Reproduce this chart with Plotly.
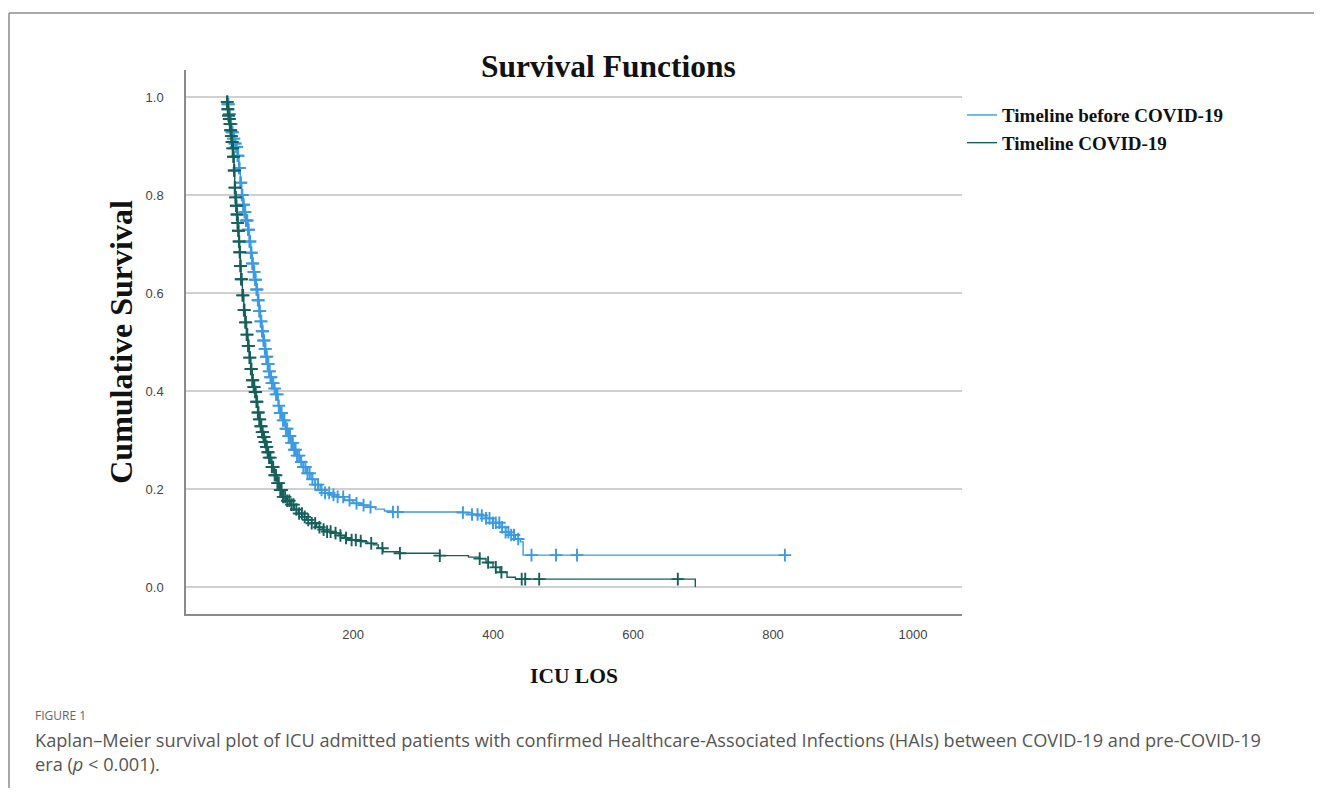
import numpy as np
import plotly.graph_objects as go

# ---------------- data ----------------
covid_t = [19, 20, 21, 22, 23, 24, 25, 26, 27, 28, 29, 30, 31, 32, 33, 34, 35, 36, 37, 38, 39, 40,
           42, 44, 46, 48, 50, 52, 54, 56, 58, 60, 62, 64, 66, 68, 70, 72, 74, 76, 78, 80,
           84, 88, 92, 96, 100, 105, 110, 116, 122, 128, 134, 141, 148, 156, 163, 171, 180,
           188, 196, 205, 213, 221, 229, 236, 243, 267, 324, 365, 381, 390, 400, 410, 420,
           432, 689]
covid_s = [1.000, 0.990, 0.975, 0.962, 0.955, 0.945, 0.932, 0.920, 0.908, 0.895, 0.878, 0.850,
           0.815, 0.795, 0.778, 0.760, 0.743, 0.727, 0.705, 0.683, 0.655, 0.628,
           0.595, 0.565, 0.540, 0.515, 0.492, 0.468, 0.445, 0.422, 0.408, 0.398, 0.378, 0.356,
           0.342, 0.328, 0.316, 0.306, 0.296, 0.286, 0.275, 0.264,
           0.245, 0.228, 0.212, 0.198, 0.184, 0.176, 0.168, 0.158, 0.150, 0.143, 0.137, 0.130,
           0.122, 0.117, 0.113, 0.110, 0.105, 0.100, 0.096, 0.094, 0.092, 0.089, 0.086, 0.079,
           0.072, 0.069, 0.064, 0.061, 0.058, 0.050, 0.040, 0.030, 0.020, 0.016, 0.000]
covid_censor = [20, 20.5, 21, 21.5, 22, 22.5, 23, 23.5, 24, 24.5, 25, 25.5, 26, 26.5, 27, 27.5,
                28, 28.5, 29, 29.5, 30, 30.5, 31, 31.5, 32, 32.5, 33, 33.5, 34, 34.5, 35, 35.5,
                36, 36.5, 37, 37.5, 38, 38.5, 39, 39.5, 40, 41, 42, 43, 44, 45, 46, 47, 48, 49,
                50, 51, 52, 53, 54, 55, 56, 57, 58, 59, 60, 61, 62, 63, 64, 65, 66, 67, 68, 69,
                70, 71, 72, 73, 74, 75, 76, 77, 78, 79, 80, 82, 84, 86, 88, 90, 92, 94, 96, 98,
                100, 103, 106, 109, 112, 115, 119, 123, 127, 131, 136, 141, 146, 152, 158, 163,
                168, 175, 182, 190, 198, 204, 211, 226, 242, 267, 324, 381, 393, 404, 412, 441,
                446, 466, 664]

pre_t = [19, 21, 23, 25, 27, 29, 31, 33, 35, 37, 39, 41, 43, 45, 47, 50, 52, 54, 56, 58, 60,
         62, 64, 66, 68, 70, 72, 74, 76, 78, 80, 82, 84, 87, 90, 93, 96, 100, 104, 108, 112,
         116, 120, 125, 129, 134, 140, 146, 153, 160, 168, 177, 188, 200, 210, 220, 232, 245,
         257, 357, 370, 381, 390, 400, 410, 418, 424, 432, 439, 443, 818]
pre_s = [1.000, 0.985, 0.965, 0.945, 0.928, 0.915, 0.905, 0.898, 0.880, 0.855, 0.825, 0.800,
         0.780, 0.765, 0.748, 0.729, 0.705, 0.682, 0.660, 0.643, 0.627, 0.607, 0.585, 0.563,
         0.542, 0.522, 0.503, 0.486, 0.470, 0.455, 0.440, 0.428, 0.416, 0.405, 0.393, 0.370,
         0.355, 0.340, 0.323, 0.308, 0.294, 0.280, 0.268, 0.255, 0.245, 0.232, 0.220, 0.209,
         0.198, 0.192, 0.188, 0.184, 0.177, 0.171, 0.167, 0.163, 0.159, 0.155, 0.153, 0.152,
         0.148, 0.146, 0.140, 0.131, 0.122, 0.112, 0.106, 0.098, 0.092, 0.065, 0.065]
pre_censor = [21, 22, 23, 24, 25, 26, 27, 28, 29, 30, 31, 32, 33, 34, 35, 36, 37, 38, 39, 40,
              41, 42, 43, 44, 45, 46, 47, 48, 49, 50, 51, 52, 53, 54, 55, 56, 57, 58, 59, 60,
              61, 62, 63, 64, 65, 66, 67, 68, 69, 70, 71, 72, 73, 74, 75, 76, 77, 78, 79, 80,
              81, 82, 83, 84, 86, 88, 90, 92, 94, 96, 98, 100, 102, 104, 106, 108, 110, 112,
              114, 116, 118, 120, 123, 126, 129, 132, 135, 138, 142, 146, 150, 155, 160, 166,
              172, 178, 186, 195, 205, 215, 225, 257, 264, 357, 370, 378, 384, 390, 395, 400,
              404, 409, 413, 418, 422, 426, 430, 436, 455, 490, 520, 817]

series_names = ["Timeline before COVID-19", "Timeline COVID-19"]
x_ticks = [200, 400, 600, 800, 1000]
y_ticks = [0.0, 0.2, 0.4, 0.6, 0.8, 1.0]

# ---------------- styling ----------------
BLUE = "#3b9ae0"
GREEN = "#14605a"
SERIF = "Liberation Serif, Times New Roman, serif"
SANS = "Liberation Sans, Arial, sans-serif"
CAP = "Open Sans, Noto Sans, sans-serif"


def step_value(times, surv, q):
    times = np.asarray(times, dtype=float)
    surv = np.asarray(surv, dtype=float)
    idx = np.searchsorted(times, q, side="right") - 1
    idx = np.clip(idx, 0, len(surv) - 1)
    return surv[idx]


fig = go.Figure()

for name, t, s, c, col in [
    (series_names[0], pre_t, pre_s, pre_censor, BLUE),
    (series_names[1], covid_t, covid_s, covid_censor, GREEN),
]:
    fig.add_trace(go.Scatter(
        x=t, y=s, mode="lines", line=dict(color=col, width=1.4, shape="hv"),
        name=f"<b>{name}</b>", showlegend=True, hoverinfo="skip"))
    fig.add_trace(go.Scatter(
        x=c, y=step_value(t, s, np.asarray(c, dtype=float)), mode="markers",
        marker=dict(symbol="cross-thin", size=9, line=dict(color=col, width=1.9)),
        showlegend=False, hoverinfo="skip"))

# page body has an 8px margin: plot area sits at x 186..962, y 70..614 in the window
fig.update_layout(
    width=1306, height=780,
    margin=dict(l=178, r=352, t=62, b=174),
    paper_bgcolor="white", plot_bgcolor="white",
    showlegend=True,
    legend=dict(x=1.0, y=0.952, xanchor="left", yanchor="top",
                font=dict(family=SERIF, size=19, color="#111"),
                bgcolor="rgba(0,0,0,0)", tracegroupgap=0, itemwidth=30),
)

fig.update_xaxes(
    range=[-38.6, 1070], tickvals=x_ticks, ticktext=[str(v) for v in x_ticks],
    showgrid=False, zeroline=False, showline=True, linecolor="#8a8a8a", linewidth=1.5,
    ticks="", tickfont=dict(family=SANS, size=13, color="#444"), ticklabelstandoff=8,
    title=dict(text="<b>ICU LOS</b>", font=dict(family=SERIF, size=21.5, color="#111"), standoff=27),
)
fig.update_yaxes(
    range=[-0.0551, 1.055], tickvals=y_ticks, ticktext=[f"{v:.1f}" for v in y_ticks],
    showgrid=True, gridcolor="#d0d0d0", gridwidth=1.5, zeroline=False,
    showline=True, linecolor="#8a8a8a", linewidth=1.5,
    ticks="", tickfont=dict(family=SANS, size=13, color="#444"), ticklabelstandoff=18,
    title=dict(text="<b>Cumulative Survival</b>", font=dict(family=SERIF, size=32, color="#111"),
               standoff=3),
)

# title
fig.add_annotation(text="<b>Survival Functions</b>", xref="paper", yref="paper",
                   x=(608 - 186) / 776, y=(614 - 66) / 544, xanchor="center", yanchor="middle",
                   showarrow=False, font=dict(family=SERIF, size=31.5, color="#111"))

# caption
fig.add_annotation(text="FIGURE 1", xref="paper", yref="paper",
                   x=(33 - 186) / 776, y=(614 - 715) / 544, xanchor="left", yanchor="middle",
                   showarrow=False, font=dict(family=CAP, size=12, color="#666"))
fig.add_annotation(text="Kaplan\u2013Meier survival plot of ICU admitted patients with confirmed "
                        "Healthcare-Associated Infections (HAIs) between COVID-19 and pre-COVID-19",
                   xref="paper", yref="paper",
                   x=(33 - 186) / 776, y=(614 - 740) / 544, xanchor="left", yanchor="middle",
                   showarrow=False, font=dict(family=CAP, size=18.2, color="#555"))
fig.add_annotation(text="era (<i>p</i> &lt; 0.001).",
                   xref="paper", yref="paper",
                   x=(33 - 186) / 776, y=(614 - 764) / 544, xanchor="left", yanchor="middle",
                   showarrow=False, font=dict(family=CAP, size=18.2, color="#555"))

# page frame (top and left rules)
fig.add_shape(type="line", xref="paper", yref="paper",
              x0=(9 - 186) / 776, x1=(1330 - 186) / 776, y0=(614 - 13) / 544, y1=(614 - 13) / 544,
              line=dict(color="#8c8c8c", width=1.5))
fig.add_shape(type="line", xref="paper", yref="paper",
              x0=(9 - 186) / 776, x1=(9 - 186) / 776, y0=(614 - 13) / 544, y1=(614 - 800) / 544,
              line=dict(color="#8c8c8c", width=1.5))

fig.write_html("out.html")
